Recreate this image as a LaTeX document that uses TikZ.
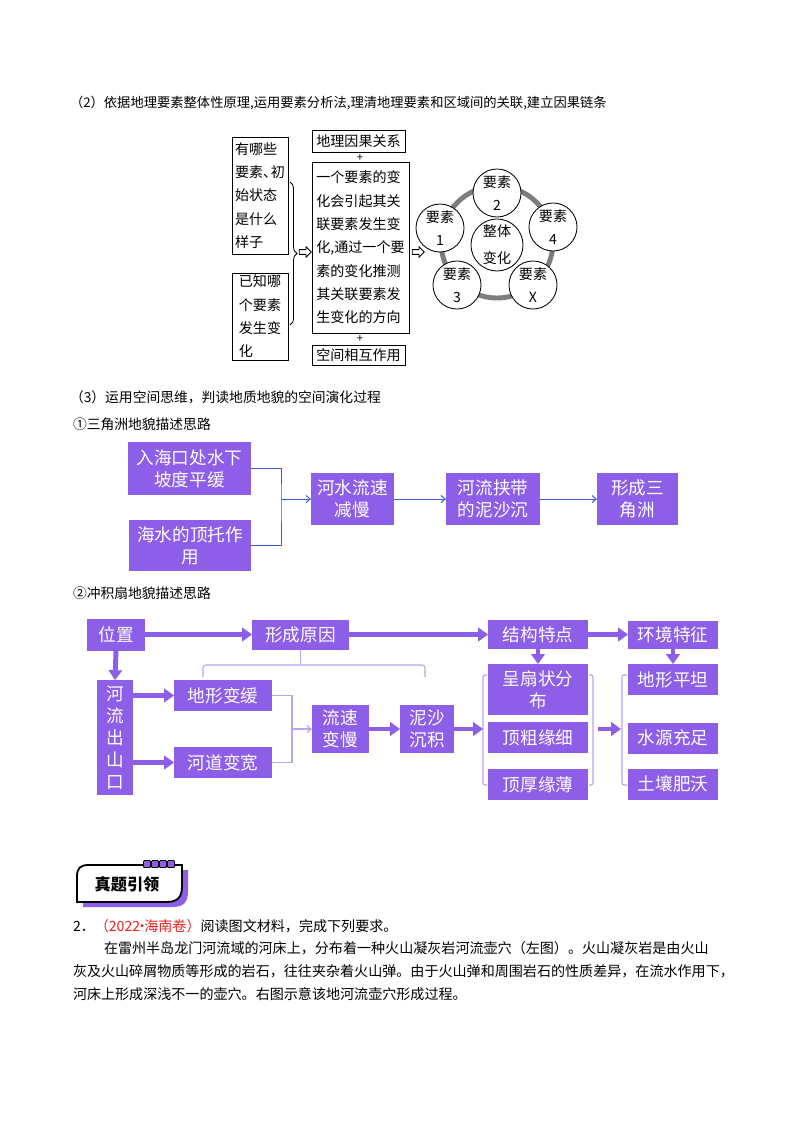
\documentclass[tikz,border=0pt]{standalone}
\usepackage{fontspec}
\setmainfont{Noto Sans CJK SC}
\usepackage{xcolor}
\usepackage{tikz}
\usetikzlibrary{arrows.meta, positioning, shapes.arrows, decorations.pathreplacing, calc}

\definecolor{boxpurple}{RGB}{141,94,232}
\definecolor{linepurple}{RGB}{184,164,242}
\definecolor{deltablue}{RGB}{62,92,210}
\definecolor{ringgray}{RGB}{125,125,125}
\definecolor{juanred}{RGB}{238,32,32}

\begin{document}
\begin{tikzpicture}[
    x=0.025cm, y=-0.025cm,
    every node/.style={inner sep=0pt, outer sep=0pt},
    heading/.style={anchor=west, font=\fontsize{9.8}{12}\selectfont},
    para/.style={anchor=west, font=\fontsize{10}{12}\selectfont},
    plainbox/.style={rectangle, draw, line width=0.6pt, align=left, font=\fontsize{10}{16.6}\selectfont},
    element/.style={circle, draw, fill=white, line width=0.6pt, minimum size=1.2cm, align=center, font=\fontsize{10}{16}\selectfont},
    hollowarrow/.style={single arrow, draw, line width=0.6pt, inner sep=1.4pt, single arrow head extend=2pt, minimum height=0.3cm},
    purplebox/.style={rectangle, fill=boxpurple, text=white, align=center, font=\fontsize{12.5}{15.6}\selectfont},
    deltaline/.style={draw=deltablue, line width=0.7pt},
    thinline/.style={draw=linepurple, line width=0.8pt},
    fatarrow/.style={draw=boxpurple, line width=3.5pt, -{Triangle[length=7pt, width=10pt, line width=0pt]}},
    barb/.style={-{Straight Barb[length=3pt, width=5pt]}}
]

\fill[white] (0,0) rectangle (800,1132);
\path[use as bounding box] (0,0) rectangle (800,1132);

% Part (2)
\node[heading, font=\fontsize{9.45}{12}\selectfont] (title2) at (70,103) {（2）依据地理要素整体性原理,运用要素分析法,理清地理要素和区域间的关联,建立因果链条};

% Known state boxes
\node[plainbox, minimum width=1.4cm, minimum height=2.925cm] (knowa) at (260,195.5) {有哪些\\要素、\kern-0.45em初\\始状态\\是什么\\样子};
\node[plainbox, minimum width=1.4cm, minimum height=2.175cm] (knowb) at (260,316.5) {已知哪\\个要素\\发生变\\化};
\draw[decorate, decoration={brace, amplitude=5pt}, line width=0.6pt] (290,182) -- (290,325);
\node[hollowarrow] (arrowa) at (304,252) {};

% Cause chain column
\node[plainbox, align=center, minimum width=2.325cm, minimum height=0.55cm] (yinguo) at (358.5,141) {地理因果关系};
\node[font=\fontsize{8}{8}\selectfont] (plusa) at (360,157.5) {+};
\node[plainbox, minimum width=2.425cm, minimum height=4.275cm] (chain) at (360.5,247.5) {一个要素的变\\化会引起其关\\联要素发生变\\化,通过一个要\\素的变化推测\\其关联要素发\\生变化的方向};
\node[font=\fontsize{8}{8}\selectfont] (plusb) at (360,339) {+};
\node[plainbox, align=center, minimum width=2.325cm, minimum height=0.5cm] (kongjian) at (358.5,355) {空间相互作用};
\node[hollowarrow] (arrowb) at (417,252) {};

% Element cycle
\coordinate (core) at (497,242);
\draw[ringgray, line width=3.5pt] (core) circle[radius=1.4cm];
\node[element, minimum size=1.3cm, font=\fontsize{10}{19}\selectfont] (whole) at (497,245) {整体\\变化};
\foreach \ex/\ey/\num/\name in {440/228/1/ysa, 497/193/2/ysb, 553/227/4/ysd, 457/285/3/ysc, 533/285/X/ysx}
    \node[element] (\name) at (\ex,\ey) {要素\\\num};

% Part (3)
\node[heading] (title3) at (70,397) {（3）运用空间思维，判读地质地貌的空间演化过程};
\node[heading] (deltatitle) at (73,424) {①三角洲地貌描述思路};

% Delta chain
\node[purplebox, minimum width=3.075cm, minimum height=1.325cm] (haikou) at (189.5,468.5) {入海口处水下\\坡度平缓};
\node[purplebox, minimum width=3.05cm, minimum height=1.275cm] (dingtuo) at (190,545.5) {海水的顶托作\\用};
\node[purplebox, minimum width=2.075cm, minimum height=1.3cm] (liusu) at (352.5,499) {河水流速\\减慢};
\node[purplebox, minimum width=2.35cm, minimum height=1.3cm] (nisha) at (493,499) {河流挟带\\的泥沙沉};
\node[purplebox, minimum width=2.025cm, minimum height=1.3cm] (sanjiao) at (637.5,499) {形成三\\角洲};

\coordinate (dj) at (281,499);
\draw[deltaline] (haikou.east) -| (dj) |- (dingtuo.east);
\draw[deltaline, barb] (dj) -- (liusu.west);
\draw[deltaline, barb] (liusu.east) -- (nisha.west);
\draw[deltaline, barb] (nisha.east) -- (sanjiao.west);

% Alluvial fan
\node[heading] (fantitle) at (73,593) {②冲积扇地貌描述思路};

\node[purplebox, minimum width=1.45cm, minimum height=0.8cm] (weizhi) at (116,634.5) {位置};
\node[purplebox, minimum width=2.425cm, minimum height=0.75cm] (yuanyin) at (300.5,634.5) {形成原因};
\node[purplebox, minimum width=2.5cm, minimum height=0.725cm] (jiegou) at (538,634.5) {结构特点};
\node[purplebox, minimum width=2.25cm, minimum height=0.7cm] (huanjing) at (673,634.5) {环境特征};

\node[purplebox, minimum width=0.9cm, minimum height=2.875cm] (chushankou) at (115,737.5) {河\\流\\出\\山\\口};
\node[purplebox, minimum width=2.45cm, minimum height=0.775cm] (dixing) at (223,695.5) {地形变缓};
\node[purplebox, minimum width=2.45cm, minimum height=0.775cm] (hedao) at (223,762.5) {河道变宽};
\node[purplebox, minimum width=1.425cm, minimum height=1.2cm] (liusub) at (340.5,729) {流速\\变慢};
\node[purplebox, minimum width=1.35cm, minimum height=1.2cm] (chenji) at (427,729) {泥沙\\沉积};

\node[purplebox, minimum width=2.5cm, minimum height=1.275cm] (shanzhuang) at (538,689.5) {呈扇状分\\布};
\node[purplebox, minimum width=2.5cm, minimum height=0.775cm] (cuxi) at (538,737.5) {顶粗缘细};
\node[purplebox, minimum width=2.5cm, minimum height=0.775cm] (houbao) at (538,784.5) {顶厚缘薄};
\node[purplebox, minimum width=2.25cm, minimum height=0.775cm] (pingtan) at (673,679.5) {地形平坦};
\node[purplebox, minimum width=2.25cm, minimum height=0.775cm] (shuiyuan) at (673,738) {水源充足};
\node[purplebox, minimum width=2.25cm, minimum height=0.775cm] (turang) at (673,784) {土壤肥沃};

\draw[fatarrow] (weizhi.east) -- (yuanyin.west);
\draw[fatarrow] (yuanyin.east) -- (jiegou.west);
\draw[fatarrow] (jiegou.east) -- (huanjing.west);
\draw[fatarrow] (weizhi.south) -- (chushankou.north);
\draw[fatarrow] (jiegou.south) -- (shanzhuang.north);
\draw[fatarrow] (huanjing.south) -- (pingtan.north);
\draw[fatarrow] (chushankou.east |- dixing.west) -- (dixing.west);
\draw[fatarrow] (chushankou.east |- hedao.west) -- (hedao.west);

% brace under the cause box
\coordinate (bracetop) at (300.5,665);
\draw[thinline, rounded corners=2pt] (203,677) |- (425,665) -- (425,677);
\draw[thinline] (yuanyin.south) -- (bracetop);

\coordinate (fj) at (292,729);
\draw[thinline] (dixing.east) -| (fj) |- (hedao.east);
\draw[thinline, barb] (fj) -- (liusub.west);
\draw[fatarrow] (liusub.east) -- (chenji.west);

% brackets round the groups
\coordinate (groupin) at (483,729);
\coordinate (groupout) at (598,729);
\coordinate (envin) at (621,729);
\draw[thinline, rounded corners=1.5pt] (487,675) -| (483,785) -- (487,785);
\draw[thinline, rounded corners=1.5pt] (589,675) -| (593,785) -- (589,785);
\draw[thinline, rounded corners=1.5pt] (627,675) -| (622,785) -- (627,785);
\draw[fatarrow] (chenji.east) -- (groupin);
\draw[fatarrow] (groupout) -- (envin);

% Badge
\fill[boxpurple] (83,907) -- (83,882) .. controls (83,873) and (86,870) .. (95,870) -- (188,870) -- (188,891) .. controls (188,902) and (184,907) .. (172,907) -- cycle;
\draw[line width=1.3pt, fill=white] (77,902) -- (77,877) .. controls (77,868) and (80,865) .. (89,865) -- (182,865) -- (182,886) .. controls (182,897) and (178,902) .. (166,902) -- cycle;
\foreach \sx in {147,155,163,171}
    \draw[fill=boxpurple, line width=0.6pt, rounded corners=0.6pt] (\sx-3.5,860.5) rectangle (\sx+3.5,867.5);
\node[font=\bfseries\fontsize{11.5}{12}\selectfont] (badge) at (127,884) {真题引领};

% Question 2
\node[para] (qtitle) at (73,926) {2．{\color{juanred}（2022\kern-0.35em·\kern-0.35em海南卷）}阅读图文材料，完成下列要求。};
\node[para] (parac) at (104,948) {在雷州半岛龙门河流域的河床上，分布着一种火山凝灰岩河流壶穴（左图）。火山凝灰岩是由火山};
\node[para] (parad) at (73,971) {灰及火山碎屑物质等形成的岩石，往往夹杂着火山弹。由于火山弹和周围岩石的性质差异，在流水作用下，};
\node[para] (parae) at (73,994) {河床上形成深浅不一的壶穴。右图示意该地河流壶穴形成过程。};

\end{tikzpicture}
\end{document}
